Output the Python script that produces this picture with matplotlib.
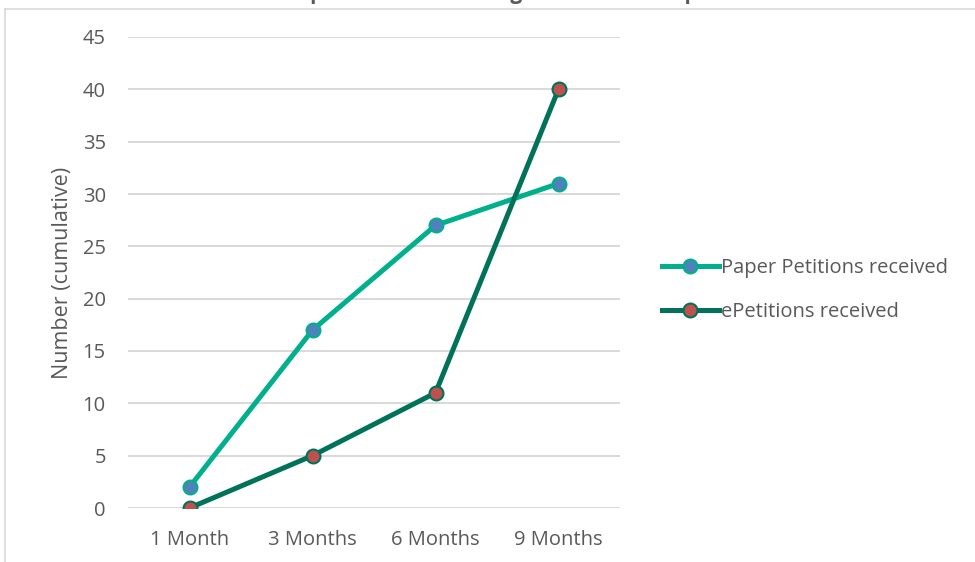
import matplotlib.pyplot as plt
import matplotlib.lines as mlines

plt.rcParams['font.family'] = ['Open Sans', 'DejaVu Sans']

periods = ["1 Month", "3 Months", "6 Months", "9 Months"]
paper = [2, 17, 27, 31]
epetitions = [0, 5, 11, 40]
title = "Chart 1: Number of petitions from 1 August 2013 to 30 April 2014"

fig = plt.figure(figsize=(9.75, 5.62), dpi=100)
ax = fig.add_axes([128 / 975, 1 - 508 / 562, 492 / 975, 471 / 562])

x = range(len(periods))
ax.plot(x, paper, "-o", color="#00B08C", lw=3.6, ms=10,
        markerfacecolor="#4F81BD", markeredgecolor="#00B08C", mew=1.5,
        label="Paper Petitions received", zorder=3)
ax.plot(x, epetitions, "-o", color="#00725A", lw=3.6, ms=10,
        markerfacecolor="#C0504D", markeredgecolor="#00725A", mew=1.5,
        label="ePetitions received", zorder=3)

ax.set_xlim(-0.5, 3.5)
ax.set_ylim(0, 45)
ax.set_yticks(range(0, 46, 5))
ax.set_xticks(list(x))
ax.set_xticklabels(periods)
ax.grid(axis="y", color="#D9D9D9", lw=1.4)
ax.set_axisbelow(True)
for s in ax.spines.values():
    s.set_visible(False)
ax.tick_params(length=0, labelsize=14.5, colors="#595959")
ax.tick_params(axis="y", pad=16)
ax.tick_params(axis="x", pad=16)
ax.set_ylabel("Number (cumulative)", fontsize=15.5, color="#595959", labelpad=7)

# legend
h1 = mlines.Line2D([], [], color="#00B08C", lw=3.6, marker="o", ms=10,
                   markerfacecolor="#4F81BD", markeredgecolor="#00B08C", mew=1.5)
h2 = mlines.Line2D([], [], color="#00725A", lw=3.6, marker="o", ms=10,
                   markerfacecolor="#C0504D", markeredgecolor="#00725A", mew=1.5)
fig.legend([h1, h2], ["Paper Petitions received", "ePetitions received"],
           loc="center left", bbox_to_anchor=(644 / 975, 1 - 290 / 562),
           frameon=False, fontsize=14.5, labelcolor="#595959",
           handlelength=2.8, handletextpad=0.1, labelspacing=1.2)

# chart frame and title, cut off at the top edge as in the source
fig.add_artist(mlines.Line2D([5 / 975, 1], [1 - 9 / 562] * 2, color="#D9D9D9", lw=1.2))
fig.add_artist(mlines.Line2D([5 / 975] * 2, [0, 1 - 9 / 562], color="#D9D9D9", lw=1.2))
fig.text(0.45, 1 + 1 / 562, title, ha="center", va="baseline",
         fontsize=15, fontweight="bold", color="#595959")

fig.savefig("out.png", dpi=100)
